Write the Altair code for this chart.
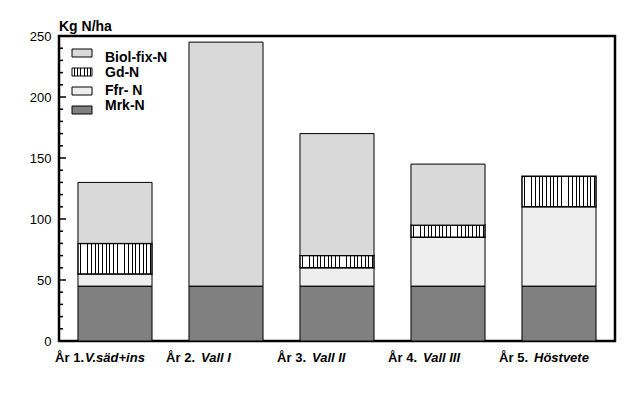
import altair as alt
import pandas as pd

categories = ["År 1.", "År 2.", "År 3.", "År 4.", "År 5."]
crops = ["V.säd+ins", "Vall I", "Vall II", "Vall III", "Höstvete"]
series = ["Mrk-N", "Ffr- N", "Gd-N", "Biol-fix-N"]
mrk = [45, 45, 45, 45, 45]
ffr = [10, 0, 15, 40, 65]
gd = [25, 0, 10, 10, 25]
biol = [50, 200, 100, 50, 0]
y_labels = [0, 50, 100, 150, 200, 250]

FONT = "Liberation Sans"
values = {"Mrk-N": mrk, "Ffr- N": ffr, "Gd-N": gd, "Biol-fix-N": biol}

rows = []
base = [0] * len(categories)
for s in series:
    for i, c in enumerate(categories):
        v = values[s][i]
        if v > 0:
            rows.append({"cat": c, "series": s, "y0": base[i], "y1": base[i] + v})
        base[i] += v
df = pd.DataFrame(rows)


def stripes(n, w):
    stops = []
    for i in range(n):
        a = (i + 0.5) / n
        stops += [alt.GradientStop(color="white", offset=max(a - 0.0001, 0)),
                  alt.GradientStop(color="black", offset=a),
                  alt.GradientStop(color="black", offset=min(a + w, 1)),
                  alt.GradientStop(color="white", offset=min(a + w + 0.0001, 1))]
    return alt.LinearGradient(gradient="linear", stops=stops, x1=0, x2=1, y1=0, y2=0)


fills = {"Mrk-N": "#808080", "Ffr- N": "#eeeeee", "Gd-N": stripes(20, 0.012),
         "Biol-fix-N": "#d9d9d9"}
legend_fills = {"Mrk-N": "#808080", "Ffr- N": "#eeeeee", "Gd-N": stripes(6, 0.05),
                "Biol-fix-N": "#d9d9d9"}

xscale = alt.Scale(domain=categories, paddingInner=0.333, paddingOuter=0.171)
yscale = alt.Scale(domain=[0, 250], nice=False)

layers = []
for s in series:
    layers.append(
        alt.Chart(df[df.series == s]).mark_rect(
            fill=fills[s], stroke="black", strokeWidth=1.5 if s == "Gd-N" else 1
        ).encode(
            x=alt.X("cat:N", scale=xscale, axis=None),
            y=alt.Y("y0:Q", scale=yscale, title=None,
                    axis=alt.Axis(values=y_labels, tickSize=0, domain=False, grid=False,
                                  labelFont=FONT, labelFontSize=13, labelColor="black",
                                  labelPadding=8)),
            y2="y1:Q",
        )
    )

minor = pd.DataFrame({"v": [v for v in range(0, 251, 10) if v % 50 != 0]})
major = pd.DataFrame({"v": list(range(0, 251, 50))})
layers.append(alt.Chart(minor).mark_rule(color="black", strokeWidth=1.5).encode(
    y=alt.Y("v:Q", scale=yscale), x=alt.value(0), x2=alt.value(4)))
layers.append(alt.Chart(major).mark_rule(color="black", strokeWidth=1.5).encode(
    y=alt.Y("v:Q", scale=yscale), x=alt.value(0), x2=alt.value(7)))

lab = pd.DataFrame({"cat": categories, "crop": crops})
first = lab.iloc[:1]
rest = lab.iloc[1:]
layers.append(alt.Chart(lab).mark_text(
    align="right", baseline="middle", dx=-31, font=FONT, fontSize=13, fontWeight="bold",
    color="black").encode(x=alt.X("cat:N", scale=xscale), y=alt.value(322), text="cat:N"))
layers.append(alt.Chart(first).mark_text(
    align="left", baseline="middle", dx=-30, font=FONT, fontSize=13, fontWeight="bold",
    fontStyle="italic", color="black").encode(
    x=alt.X("cat:N", scale=xscale), y=alt.value(322), text="crop:N"))
layers.append(alt.Chart(rest).mark_text(
    align="left", baseline="middle", dx=-25, font=FONT, fontSize=13, fontWeight="bold",
    fontStyle="italic", color="black").encode(
    x=alt.X("cat:N", scale=xscale), y=alt.value(322), text="crop:N"))

title_df = pd.DataFrame({"t": ["Kg N/ha"]})
layers.append(alt.Chart(title_df).mark_text(
    align="left", baseline="alphabetic", font=FONT, fontSize=14, fontWeight="bold",
    color="black").encode(x=alt.value(0), y=alt.value(-5), text="t:N"))

legend_order = ["Biol-fix-N", "Gd-N", "Ffr- N", "Mrk-N"]
rect_y = [13, 32, 51, 70]
text_y = [22, 37, 55, 70]
for i, s in enumerate(legend_order):
    ldf = pd.DataFrame({"label": [s]})
    layers.append(alt.Chart(ldf).mark_rect(
        fill=legend_fills[s], stroke="black", strokeWidth=1).encode(
        x=alt.value(13), x2=alt.value(33), y=alt.value(rect_y[i]), y2=alt.value(rect_y[i] + 8)))
    layers.append(alt.Chart(ldf).mark_text(
        align="left", baseline="middle", font=FONT, fontSize=14, fontWeight="bold",
        color="black").encode(x=alt.value(46), y=alt.value(text_y[i]), text="label:N"))

chart = alt.layer(*layers).properties(
    width=556, height=305,
    background="white",
    autosize=alt.AutoSizeParams(type="none"),
    padding={"left": 51, "top": 28, "right": 17, "bottom": 48},
).configure_view(stroke="black", strokeWidth=2.5)

chart.save("out.html", embed_options={"renderer": "svg", "actions": False})
